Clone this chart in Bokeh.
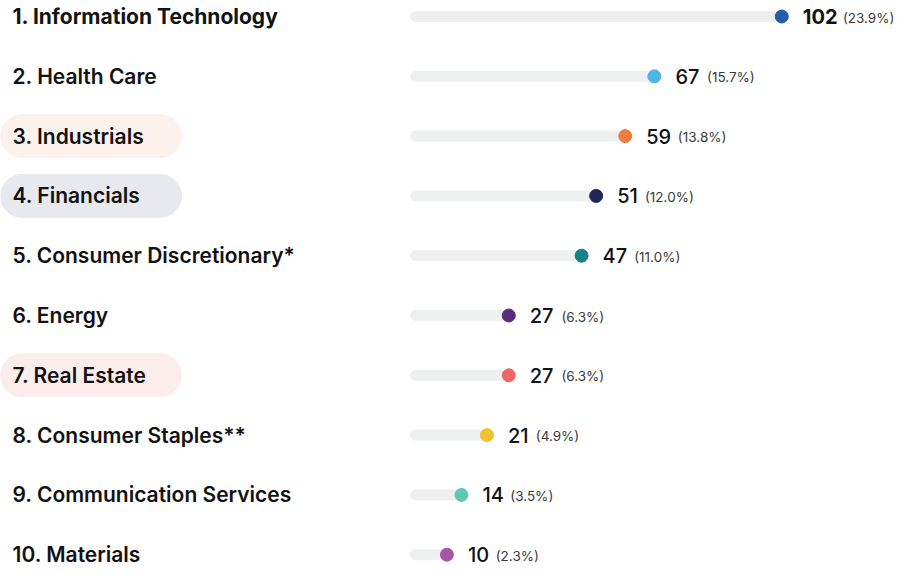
from bokeh.plotting import figure
from bokeh.models import ColumnDataSource, Range1d
from bokeh.core.properties import value
from bokeh.embed import file_html
from bokeh.resources import INLINE

# ---- data ----
sectors = ["Information Technology", "Health Care", "Industrials", "Financials",
           "Consumer Discretionary*", "Energy", "Real Estate", "Consumer Staples**",
           "Communication Services", "Materials"]
counts = [102, 67, 59, 51, 47, 27, 27, 21, 14, 10]
pcts = ["23.9%", "15.7%", "13.8%", "12.0%", "11.0%", "6.3%", "6.3%", "4.9%", "3.5%", "2.3%"]
dot_colors = ["#265ca8", "#4cb7e6", "#ef7d3f", "#1f2659", "#17808a",
              "#5a2b7e", "#ee6767", "#f3c22f", "#5fc8b1", "#a955a6"]
highlight_rank = [3, 4, 7]
highlight_colors = ["#fdf1eb", "#e8e9ee", "#fcedec"]

# ---- layout (pixels) ----
W, H = 896, 567
ROW = 59.8          # px between rows
TOP = 16.0          # px from top to first row centre
ZERO_PX = 410.0     # px where value 0 sits
SCALE = 3.64        # px per unit

x0 = -ZERO_PX / SCALE
x1 = x0 + W / SCALE
y_top = 1 - TOP / ROW
y_bot = y_top + H / ROW


def px_x(px):
    return x0 + px / SCALE


ranks = list(range(1, len(sectors) + 1))
labels = [f"{r}. {s}" for r, s in zip(ranks, sectors)]
lab_font = ["Inter" if r == 1 else "Inter SemiBold" for r in ranks]
num_font = ["Inter" if r == 1 else "Inter Medium" for r in ranks]
lab_style = ["bold" if r == 1 else "normal" for r in ranks]
num_text = [str(c) for c in counts]
pct_text = [f"({p})" for p in pcts]
NUM_OFF = 21
DIGIT_W = {"1": 8.5}
num_w = [sum(DIGIT_W.get(ch, 12.3) for ch in str(c)) for c in counts]
pct_off = [NUM_OFF + w + 7 for w in num_w]

src = ColumnDataSource(dict(
    rank=ranks, label=labels, count=counts, num=num_text, pct=pct_text,
    color=dot_colors, lfont=lab_font, nfont=num_font, lstyle=lab_style, pct_off=pct_off,
    zero=[0] * len(ranks), lab_x=[px_x(12)] * len(ranks),
))

hl_src = ColumnDataSource(dict(
    rank=highlight_rank, color=highlight_colors,
    left=[x0 - 20] * len(highlight_rank), right=[px_x(181)] * len(highlight_rank),
))

p = figure(width=W, height=H, output_backend="svg", toolbar_location=None,
           x_range=Range1d(x0, x1), y_range=Range1d(y_bot, y_top),
           min_border=0, outline_line_color=None)
p.axis.visible = False
p.grid.visible = False
p.background_fill_color = "white"
p.border_fill_color = "white"

# highlight pills
p.hbar(y="rank", left="left", right="right", height=43 / ROW, color="color",
       border_radius=22, source=hl_src)

# tracks
p.hbar(y="rank", left="zero", right="count", height=10 / ROW, color="#eef0f0",
       border_radius=5, source=src)

# dots
p.scatter(x="count", y="rank", size=13, color="color", source=src)

# sector labels
p.text(x="lab_x", y="rank", text="label", text_font="lfont", text_font_style="lstyle",
       text_font_size="21px", text_color="#121212", text_baseline="middle",
       source=src)

# values
p.text(x="count", y="rank", text="num", x_offset=NUM_OFF, text_font="nfont",
       text_font_style="lstyle", text_font_size="20px", text_color="#121212",
       text_baseline="middle", source=src)

p.text(x="count", y="rank", text="pct", x_offset="pct_off", y_offset=1,
       text_font=value("Inter"), text_font_size="13.5px", text_color="#3a3a3a",
       text_baseline="middle", source=src)

open("out.html", "w").write(file_html(p, INLINE))
